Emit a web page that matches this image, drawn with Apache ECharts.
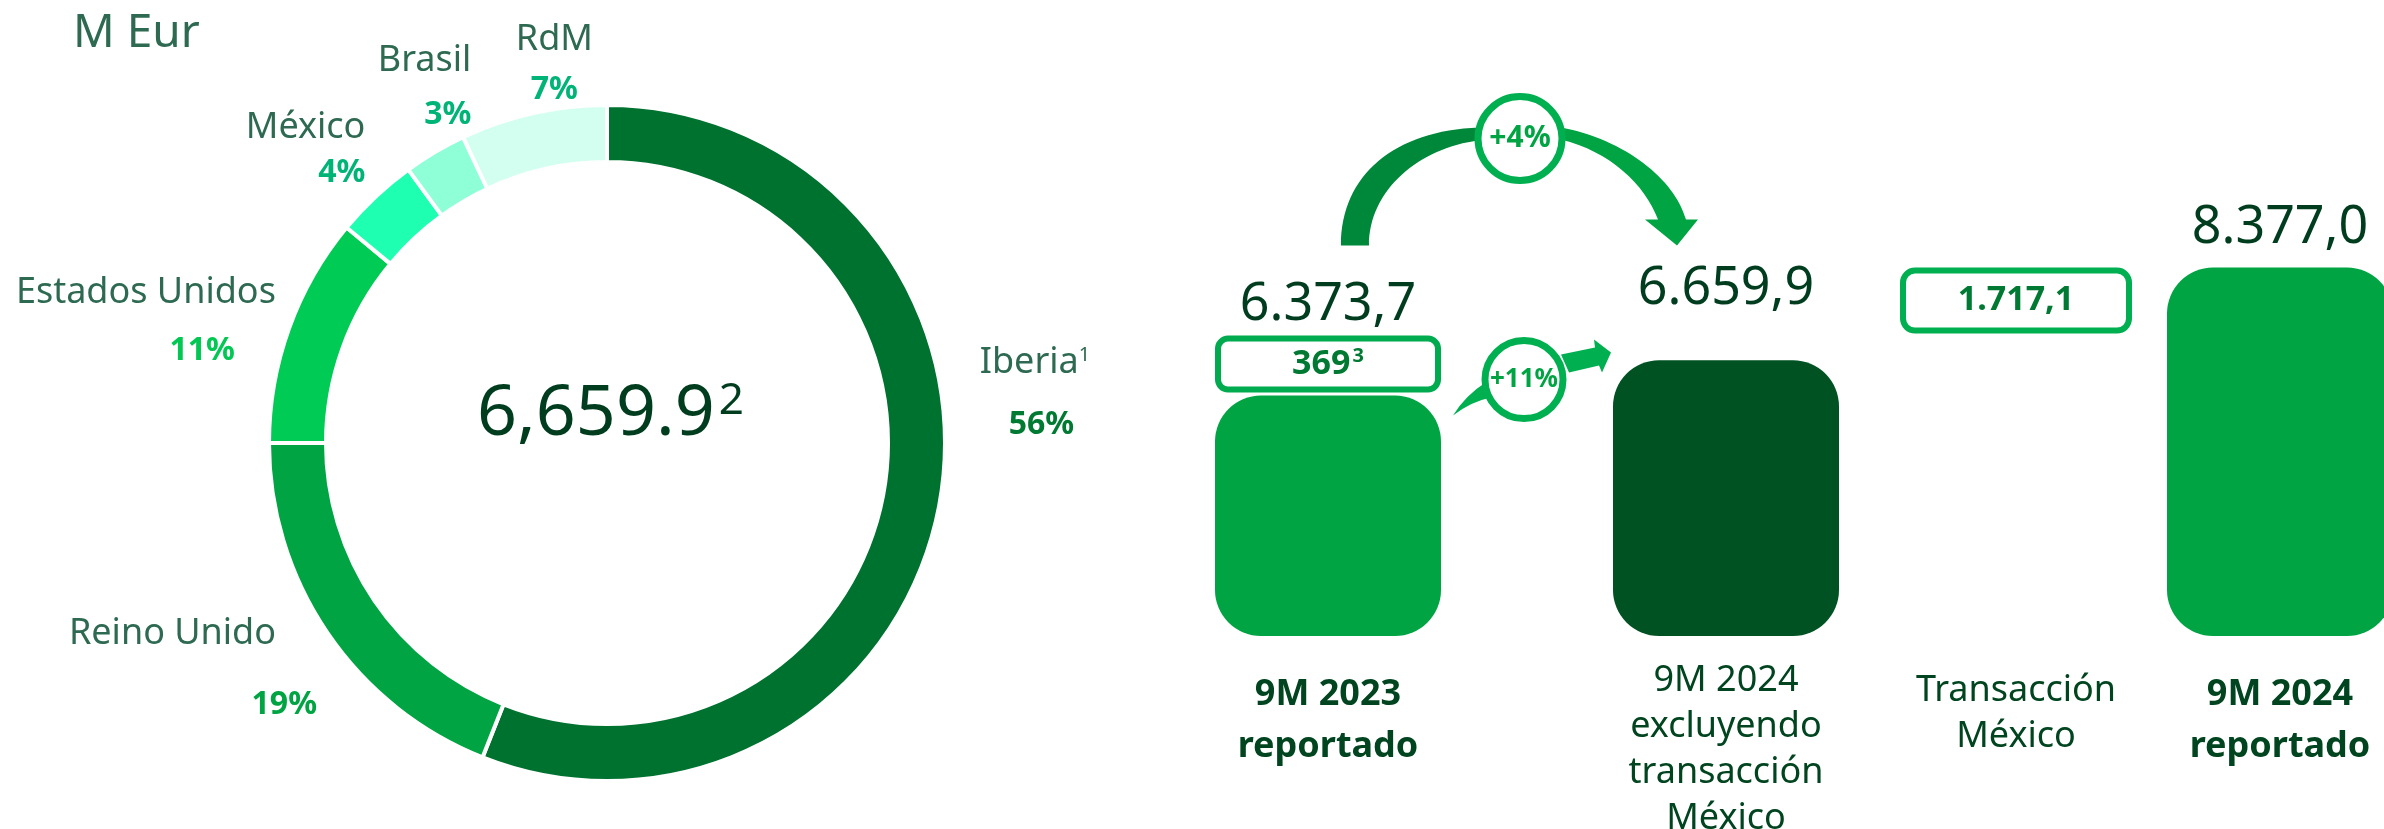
<!DOCTYPE html>
<html>
<head>
<meta charset="utf-8">
<script src="https://cdn.jsdelivr.net/npm/echarts@6/dist/echarts.min.js"></script>
<style>
  html, body { margin: 0; padding: 0; background: #fff; }
  #main { width: 2384px; height: 829px; }
</style>
</head>
<body>
<div id="main"></div>
<script>
// donut: reparto por región (%)
const regions = ['Iberia', 'Reino Unido', 'Estados Unidos', 'México', 'Brasil', 'RdM'];
const regionShare = [56, 19, 11, 4, 3, 7];
const donutTotal = '6,659.9';

// puente 9M 2023 -> 9M 2024 (M Eur)
const catsA = ['9M 2023\nreportado', '9M 2024\nexcluyendo\ntransacción\nMéxico'];
const catsB = ['Transacción\nMéxico', '9M 2024\nreportado'];
const reported2023 = 6373.7;
const mexico2023 = 369;
const excl2024 = 6659.9;
const mexicoDeal = 1717.1;
const reported2024 = 8377.0;
const growth = ['+4%', '+11%'];

const FONT = 'Noto Sans';
const sliceColors = ['#007230', '#00a443', '#00cc55', '#1effb2', '#8fffd8', '#d2fff0'];
const pctColors = ['#007a33', '#00a443', '#00c853', '#00b377', '#00b377', '#00b377'];
// ajuste fino de etiquetas del donut
const labelTweak = [
    { dx: 21, dy: -115, gap: 62, align: 'right', nPad: 0, pPad: 16 },
    { dx: 7, dy: 28, gap: 71, align: 'right', nPad: 41, pPad: 0 },
    { dx: 6, dy: -2, gap: 58, align: 'right', nPad: 0, pPad: 41 },
    { dx: 5, dy: -35, gap: 45, align: 'right', nPad: 0, pPad: 0 },
    { dx: 49, dy: -51, gap: 54, align: 'right', nPad: 0, pPad: 0 },
    { dx: 68, dy: -34, gap: 50, align: 'center', nPad: 0, pPad: 0 }
];

function fmtEs(v) {
    let parts = v.toFixed(1).split('.');
    return parts[0].replace(/\B(?=(\d{3})+(?!\d))/g, '.') + ',' + parts[1];
}

let rich = {};
labelTweak.forEach((t, i) => {
    rich['n' + i] = { fontFamily: FONT, fontSize: 36, color: '#2e6a52', lineHeight: t.gap, align: t.align, padding: [0, t.nPad, 0, 0] };
    rich['p' + i] = { fontFamily: FONT, fontSize: 32, fontWeight: 'bold', color: pctColors[i], lineHeight: t.gap, align: t.align, padding: [0, t.pPad, 0, 0] };
});
rich.sup = { fontFamily: FONT, fontSize: 20, color: '#2e6a52', align: 'right', padding: [0, 0, 16, 0] };

function renderBridge(params, api) {
    let b1 = api.coord([0, api.value(1)]);
    let b2 = api.coord([1, api.value(2)]);
    let x1 = b1[0], y1 = b1[1], x2 = b2[0];
    let mid = (x1 + x2) / 2;
    let ya = y1 - 150;
    let ys = y1 + 8;
    let w = 226;
    let leftArm = 'M' + (x1 + 13) + ',' + ya +
        ' C' + (x1 + 13) + ',' + (ya - 71) + ' ' + (x1 + 67) + ',' + (ya - 115) + ' ' + (x1 + 151) + ',' + (ya - 118) +
        ' L' + (x1 + 151) + ',' + (ya - 105) +
        ' C' + (x1 + 92) + ',' + (ya - 98) + ' ' + (x1 + 41) + ',' + (ya - 56) + ' ' + (x1 + 41) + ',' + ya + ' Z';
    let rightArm = 'M' + (x2 - 165) + ',' + (ya - 118) +
        ' C' + (x2 - 101) + ',' + (ya - 106) + ' ' + (x2 - 51) + ',' + (ya - 66) + ' ' + (x2 - 40) + ',' + (ya - 26) +
        ' L' + (x2 - 28) + ',' + (ya - 26) + ' L' + (x2 - 49) + ',' + ya + ' L' + (x2 - 81) + ',' + (ya - 26) +
        ' L' + (x2 - 68) + ',' + (ya - 26) +
        ' C' + (x2 - 81) + ',' + (ya - 61) + ' ' + (x2 - 116) + ',' + (ya - 94) + ' ' + (x2 - 165) + ',' + (ya - 106) + ' Z';
    let tail = 'M' + (mid - 74) + ',' + (ys + 12) +
        ' Q' + (mid - 62) + ',' + (ys - 8) + ' ' + (mid - 40) + ',' + (ys - 22) +
        ' L' + (mid - 36) + ',' + (ys - 6) +
        ' Q' + (mid - 56) + ',' + (ys - 2) + ' ' + (mid - 74) + ',' + (ys + 12) + ' Z';
    let smallArrow = 'M' + (mid + 34) + ',' + (ys - 49) + ' L' + (mid + 68) + ',' + (ys - 56) +
        ' L' + (mid + 67) + ',' + (ys - 64) + ' L' + (mid + 84) + ',' + (ys - 51) +
        ' L' + (mid + 75) + ',' + (ys - 31) + ' L' + (mid + 72) + ',' + (ys - 38) +
        ' L' + (mid + 42) + ',' + (ys - 31) + ' Z';
    return {
        type: 'group',
        children: [
            { type: 'rect', shape: { x: x1 - w / 2 + 3, y: y1 - 57, width: w - 6, height: 51, r: 10 },
              style: { fill: '#fff', stroke: '#00aa4f', lineWidth: 6 } },
            { type: 'text', style: { x: x1, y: y1 - 31, text: '{v|' + mexico2023 + '}{s|3}', align: 'center', verticalAlign: 'middle',
              rich: { v: { fontFamily: FONT, fontSize: 34, fontWeight: 'bold', fill: '#007a33' },
                      s: { fontFamily: FONT, fontSize: 20, fontWeight: 'bold', fill: '#007a33', padding: [0, 0, 16, 2] } } } },
            { type: 'path', shape: { pathData: leftArm }, style: { fill: '#00883a' } },
            { type: 'path', shape: { pathData: rightArm }, style: { fill: '#00a443' } },
            { type: 'circle', shape: { cx: mid - 7, cy: ya - 107, r: 42 }, style: { fill: '#fff', stroke: '#00b050', lineWidth: 7 } },
            { type: 'text', style: { x: mid - 7, y: ya - 107, text: growth[0], align: 'center', verticalAlign: 'middle',
              fontFamily: FONT, fontSize: 30, fontWeight: 'bold', fill: '#00a443' } },
            { type: 'path', shape: { pathData: tail }, style: { fill: '#00b050' } },
            { type: 'path', shape: { pathData: smallArrow }, style: { fill: '#00b050' } },
            { type: 'circle', shape: { cx: mid - 3, cy: ys - 24, r: 39 }, style: { fill: '#fff', stroke: '#00b050', lineWidth: 7 } },
            { type: 'text', style: { x: mid - 3, y: ys - 24, text: growth[1], align: 'center', verticalAlign: 'middle',
              fontFamily: FONT, fontSize: 26, fontWeight: 'bold', fill: '#00a443' } }
        ]
    };
}

function renderDeal(params, api) {
    let top = api.coord([0, api.value(1)]);
    let w = 232, h = 66;
    return {
        type: 'group',
        children: [
            { type: 'rect', shape: { x: top[0] - w / 2 + 3, y: top[1] + 3, width: w - 6, height: h - 6, r: 12 },
              style: { fill: '#fff', stroke: '#00b050', lineWidth: 6 } },
            { type: 'text', style: { x: top[0], y: top[1] + h / 2, text: fmtEs(mexicoDeal), align: 'center', verticalAlign: 'middle',
              fontFamily: FONT, fontSize: 34, fontWeight: 'bold', fill: '#007a33' } }
        ]
    };
}

const catLabel = {
    fontFamily: FONT,
    fontSize: 36,
    lineHeight: 46,
    color: '#00451f',
    margin: 22,
    interval: 0
};
function catData(list) {
    return list.map(c => {
        if (c.indexOf('reportado') >= 0) {
            return { value: c, textStyle: { fontWeight: 'bold', lineHeight: 52, padding: [11, 0, 0, 0] } };
        }
        if (c.indexOf('Transacción') === 0) {
            return { value: c, textStyle: { padding: [10, 0, 0, 0] } };
        }
        return { value: c };
    });
}

let chart = echarts.init(document.getElementById('main'));
let option = {
    animation: false,
    backgroundColor: '#fff',
    title: [
        { text: 'M Eur', left: 68, top: 6, textStyle: { fontFamily: FONT, fontSize: 46, fontWeight: 'normal', color: '#2e6a52' } },
        { text: '{v|' + donutTotal + '}{s|2}', left: 472, top: 374,
          textStyle: { fontWeight: 'normal',
                       rich: { v: { fontFamily: FONT, fontSize: 70, fontWeight: 'normal', color: '#003d1f' },
                               s: { fontFamily: FONT, fontSize: 44, fontWeight: 'normal', color: '#003d1f', padding: [0, 0, 28, 4] } } } }
    ],
    grid: [
        { left: 1129, width: 796, top: 180, bottom: 193, outerBoundsMode: 'none' },
        { left: 1884, width: 528, top: 180, bottom: 193, outerBoundsMode: 'none' }
    ],
    xAxis: [
        { type: 'category', gridIndex: 0, data: catData(catsA), axisLine: { show: false }, axisTick: { show: false }, axisLabel: catLabel },
        { type: 'category', gridIndex: 1, data: catData(catsB), axisLine: { show: false }, axisTick: { show: false }, axisLabel: catLabel }
    ],
    yAxis: [
        { type: 'value', gridIndex: 0, min: 1550, max: 10000, show: false },
        { type: 'value', gridIndex: 1, min: 1550, max: 10000, show: false }
    ],
    series: [
        {
            type: 'pie',
            center: [607, 443],
            radius: [281, 338],
            startAngle: 90,
            avoidLabelOverlap: false,
            silent: true,
            itemStyle: { borderColor: '#fff', borderWidth: 4 },
            label: {
                position: 'outside',
                formatter: p => {
                    let i = p.dataIndex;
                    return '{n' + i + '|' + p.name + '}' + (i === 0 ? '{sup|1}' : '') + '\n{p' + i + '|' + p.value + '%}';
                },
                rich: rich
            },
            labelLine: { show: false, length: 15, length2: 0 },
            labelLayout: p => ({ dx: labelTweak[p.dataIndex].dx, dy: labelTweak[p.dataIndex].dy }),
            data: regions.map((n, i) => ({ name: n, value: regionShare[i], itemStyle: { color: sliceColors[i] } }))
        },
        {
            type: 'bar',
            xAxisIndex: 0,
            yAxisIndex: 0,
            barWidth: 226,
            itemStyle: { borderRadius: 46 },
            label: {
                show: true,
                position: 'top',
                fontFamily: FONT,
                fontSize: 52,
                color: '#003d1f'
            },
            data: [
                { value: reported2023 - mexico2023, itemStyle: { color: '#00a443' }, label: { distance: 64, formatter: () => fmtEs(reported2023) } },
                { value: excl2024, itemStyle: { color: '#005222' }, label: { distance: 45, formatter: () => fmtEs(excl2024) } }
            ]
        },
        {
            type: 'custom',
            xAxisIndex: 0,
            yAxisIndex: 0,
            silent: true,
            renderItem: renderBridge,
            data: [[0, reported2023 - mexico2023, excl2024]]
        },
        {
            type: 'bar',
            xAxisIndex: 1,
            yAxisIndex: 1,
            barWidth: 226,
            itemStyle: { borderRadius: 46, color: '#00a443' },
            label: {
                show: true,
                position: 'top',
                distance: 13,
                fontFamily: FONT,
                fontSize: 52,
                color: '#003d1f',
                formatter: p => fmtEs(p.value)
            },
            data: ['-', reported2024]
        },
        {
            type: 'custom',
            xAxisIndex: 1,
            yAxisIndex: 1,
            silent: true,
            renderItem: renderDeal,
            data: [[0, excl2024 + mexicoDeal]]
        }
    ]
};
chart.setOption(option);
</script>
</body>
</html>
